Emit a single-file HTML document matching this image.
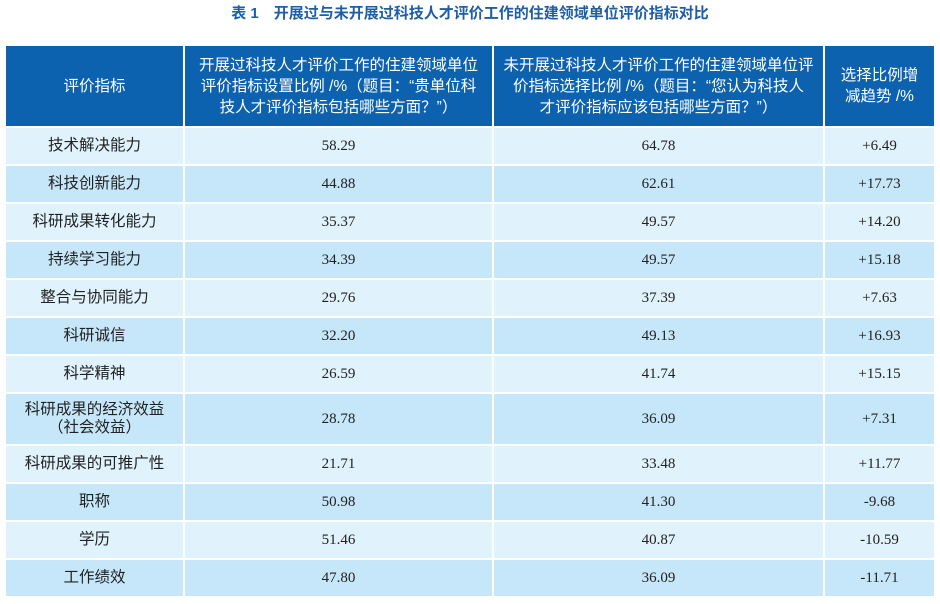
<!DOCTYPE html>
<html><head><meta charset="utf-8"><style>
body{margin:0;width:940px;height:604px;background:#fff;font-family:"Liberation Serif","Noto Sans CJK SC",serif;position:relative;overflow:hidden}
.t{position:absolute;top:2px;left:0;width:940px;text-align:center;font:bold 15px "Liberation Sans","Noto Sans CJK SC",sans-serif;color:#1e5ea6}
table{position:absolute;left:4px;top:44px;border-collapse:collapse;table-layout:fixed}
td,th{border:2px solid #fff;text-align:center;padding:0;font-size:15px;color:#222}
th{background:#0d62b0;color:#fff;font:normal 15.5px/21px "Liberation Sans","Noto Sans CJK SC",sans-serif;height:80px}
td.c{font-family:"Liberation Sans","Noto Sans CJK SC",sans-serif;font-size:15.5px;line-height:18px}
tr.a td{background:#e0f2fc}
tr.b td{background:#c6e7f9}
</style></head><body>
<div class="t">表 1　开展过与未开展过科技人才评价工作的住建领域单位评价指标对比</div>
<table>
<colgroup><col style="width:179px"><col style="width:309px"><col style="width:331px"><col style="width:111px"></colgroup>
<tr><th>评价指标</th><th>开展过科技人才评价工作的住建领域单位<br>评价指标设置比例 /%（题目：“贵单位科<br>技人才评价指标包括哪些方面？”）</th><th>未开展过科技人才评价工作的住建领域单位评<br>价指标选择比例 /%（题目：“您认为科技人<br>才评价指标应该包括哪些方面？”）</th><th>选择比例增<br>减趋势 /%</th></tr>
<tr class="a" style="height:38px"><td class="c">技术解决能力</td><td>58.29</td><td>64.78</td><td>+6.49</td></tr>
<tr class="b" style="height:38px"><td class="c">科技创新能力</td><td>44.88</td><td>62.61</td><td>+17.73</td></tr>
<tr class="a" style="height:38px"><td class="c">科研成果转化能力</td><td>35.37</td><td>49.57</td><td>+14.20</td></tr>
<tr class="b" style="height:38px"><td class="c">持续学习能力</td><td>34.39</td><td>49.57</td><td>+15.18</td></tr>
<tr class="a" style="height:38px"><td class="c">整合与协同能力</td><td>29.76</td><td>37.39</td><td>+7.63</td></tr>
<tr class="b" style="height:38px"><td class="c">科研诚信</td><td>32.20</td><td>49.13</td><td>+16.93</td></tr>
<tr class="a" style="height:38px"><td class="c">科学精神</td><td>26.59</td><td>41.74</td><td>+15.15</td></tr>
<tr class="b" style="height:52px"><td class="c">科研成果的经济效益<br>（社会效益）</td><td>28.78</td><td>36.09</td><td>+7.31</td></tr>
<tr class="a" style="height:38px"><td class="c">科研成果的可推广性</td><td>21.71</td><td>33.48</td><td>+11.77</td></tr>
<tr class="b" style="height:38px"><td class="c">职称</td><td>50.98</td><td>41.30</td><td>-9.68</td></tr>
<tr class="a" style="height:38px"><td class="c">学历</td><td>51.46</td><td>40.87</td><td>-10.59</td></tr>
<tr class="b" style="height:38px"><td class="c">工作绩效</td><td>47.80</td><td>36.09</td><td>-11.71</td></tr>
</table>
</body></html>
